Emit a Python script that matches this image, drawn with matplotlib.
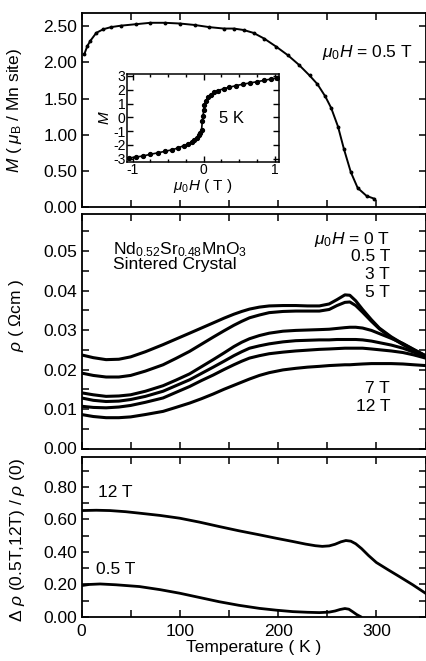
import numpy as np
import matplotlib
matplotlib.use("Agg")
import matplotlib.pyplot as plt
from matplotlib.ticker import MultipleLocator, FormatStrFormatter

plt.rcParams['font.family'] = ['Liberation Sans', 'DejaVu Sans']
plt.rcParams['mathtext.fontset'] = 'custom'
plt.rcParams['mathtext.rm'] = 'Liberation Sans'
plt.rcParams['mathtext.it'] = 'Liberation Sans:italic'
plt.rcParams['mathtext.bf'] = 'Liberation Sans:bold'
plt.rcParams['axes.unicode_minus'] = False

# ---- data ----
# magnetization at 0.5 T
T_M = [3, 6, 9, 15, 22, 30, 40, 55, 70, 85, 100, 115, 130, 145, 155, 165, 175,
       186, 198, 210, 221, 232, 240, 248, 254, 261, 267, 274, 281, 290, 298]
M_T = [2.12, 2.23, 2.30, 2.41, 2.46, 2.49, 2.51, 2.53, 2.55, 2.55, 2.54, 2.52, 2.49,
       2.47, 2.47, 2.45, 2.41, 2.33, 2.22, 2.10, 1.97, 1.82, 1.70, 1.53, 1.37,
       1.11, 0.80, 0.48, 0.26, 0.15, 0.11]

# inset: M(H) at 5 K
H_in = [-1.05, -0.95, -0.85, -0.75, -0.65, -0.55, -0.45, -0.36, -0.28, -0.22,
        -0.17, -0.13, -0.10, -0.07, -0.05, -0.03, -0.02, -0.01, 0.0, 0.01, 0.03,
        0.06, 0.10, 0.15, 0.20, 0.28, 0.36, 0.45, 0.55, 0.65, 0.75, 0.85, 0.95, 1.03]
M_in = [-2.95, -2.88, -2.80, -2.68, -2.58, -2.47, -2.36, -2.22, -2.05, -1.92,
        -1.78, -1.62, -1.48, -1.30, -1.12, -0.90, -0.30, 0.10, 0.50, 0.90, 1.20,
        1.45, 1.65, 1.82, 1.94, 2.07, 2.18, 2.29, 2.40, 2.49, 2.58, 2.68, 2.78, 2.85]

# resistivity for several fields
T_rho = [0, 12, 25, 38, 50, 65, 83, 96, 110, 122, 134, 145, 155, 163, 171, 181, 191,
         205, 218, 230, 242, 252, 260, 268, 273, 279, 286, 295, 303, 315, 327, 338, 350]
rho_0T = [0.0237, 0.0230, 0.0225, 0.0226, 0.0232, 0.0245, 0.0263, 0.0277, 0.0292,
          0.0305, 0.0318, 0.0330, 0.0340, 0.0347, 0.0353, 0.0358, 0.0361, 0.0362,
          0.0362, 0.0361, 0.0361, 0.0366, 0.0377, 0.0389, 0.0388, 0.0374, 0.0352,
          0.0326, 0.0305, 0.0283, 0.0265, 0.0250, 0.0235]
rho_05T = [0.0191, 0.0185, 0.0181, 0.0181, 0.0185, 0.0196, 0.0212, 0.0228, 0.0246,
           0.0264, 0.0282, 0.0298, 0.0312, 0.0322, 0.0331, 0.0338, 0.0344, 0.0347,
           0.0348, 0.0348, 0.0348, 0.0352, 0.0362, 0.0370, 0.0371, 0.0362, 0.0345,
           0.0322, 0.0303, 0.0281, 0.0263, 0.0248, 0.0233]
rho_3T = [0.0141, 0.0136, 0.0132, 0.0133, 0.0136, 0.0145, 0.0159, 0.0173, 0.0189,
          0.0207, 0.0225, 0.0242, 0.0258, 0.0269, 0.0278, 0.0286, 0.0292, 0.0297,
          0.0299, 0.0300, 0.0301, 0.0302, 0.0304, 0.0306, 0.0307, 0.0307, 0.0305,
          0.0299, 0.0291, 0.0279, 0.0266, 0.0251, 0.0235]
rho_5T = [0.0128, 0.0122, 0.0119, 0.0120, 0.0124, 0.0132, 0.0145, 0.0159, 0.0174,
          0.0190, 0.0206, 0.0221, 0.0235, 0.0245, 0.0254, 0.0260, 0.0265, 0.0270,
          0.0273, 0.0274, 0.0275, 0.0275, 0.0276, 0.0276, 0.0276, 0.0276, 0.0275,
          0.0272, 0.0268, 0.0262, 0.0254, 0.0244, 0.0232]
rho_7T = [0.0107, 0.0104, 0.0103, 0.0105, 0.0109, 0.0117, 0.0128, 0.0142, 0.0157,
          0.0172, 0.0186, 0.0200, 0.0212, 0.0221, 0.0229, 0.0235, 0.0240, 0.0244,
          0.0247, 0.0249, 0.0251, 0.0252, 0.0253, 0.0254, 0.0254, 0.0254, 0.0254,
          0.0252, 0.0250, 0.0247, 0.0243, 0.0237, 0.0229]
rho_12T = [0.0086, 0.0081, 0.0078, 0.0078, 0.0080, 0.0086, 0.0094, 0.0104, 0.0115,
           0.0126, 0.0138, 0.0150, 0.0160, 0.0168, 0.0176, 0.0185, 0.0192, 0.0199,
           0.0203, 0.0206, 0.0208, 0.0210, 0.0211, 0.0212, 0.0212, 0.0213, 0.0214,
           0.0215, 0.0215, 0.0215, 0.0214, 0.0212, 0.0210]

# magnetoresistance ratio
T_mr12 = [0, 15, 29, 45, 59, 80, 100, 120, 140, 160, 181, 198, 215, 228, 238, 245,
          252, 258, 264, 269, 274, 279, 285, 292, 300, 312, 323, 337, 350]
mr_12T = [0.654, 0.656, 0.654, 0.647, 0.638, 0.624, 0.607, 0.583, 0.556, 0.530,
          0.505, 0.484, 0.464, 0.448, 0.438, 0.434, 0.437, 0.447, 0.462, 0.470,
          0.466, 0.450, 0.420, 0.378, 0.335, 0.290, 0.250, 0.198, 0.146]
T_mr05 = [0, 8, 19, 35, 59, 80, 100, 120, 140, 160, 181, 198, 215, 230, 242, 252,
          258, 263, 268, 272, 276, 280, 284]
mr_05T = [0.193, 0.200, 0.203, 0.198, 0.187, 0.168, 0.146, 0.120, 0.094, 0.072,
          0.053, 0.042, 0.033, 0.029, 0.027, 0.030, 0.037, 0.046, 0.052, 0.048,
          0.032, 0.015, 0.002]

W, H = 426, 661
fig = plt.figure(figsize=(W / 100, H / 100), dpi=100)


def box(l, t, r, b):
    return [l / W, 1 - b / H, (r - l) / W, (b - t) / H]


def style(ax):
    ax.set_xlim(0, 350)
    ax.xaxis.set_major_locator(MultipleLocator(100))
    ax.xaxis.set_minor_locator(MultipleLocator(50))
    ax.tick_params(which='both', direction='in', top=True, right=True,
                   labelsize=12.5, width=1.1, pad=3)
    ax.tick_params(which='major', length=5)
    ax.tick_params(which='minor', length=5)
    for s in ax.spines.values():
        s.set_linewidth(1.3)


ax1 = fig.add_axes(box(81.5, 12.7, 425.5, 206.7))
ax2 = fig.add_axes(box(81.5, 214.3, 425.5, 448.5))
ax3 = fig.add_axes(box(81.5, 456.7, 425.5, 617))

# top: M(T)
style(ax1)
ax1.plot(T_M, M_T, color='black', lw=1.4, marker='o', ms=1.8)
ax1.set_ylim(0, 2.69)
ax1.yaxis.set_major_locator(MultipleLocator(0.5))
ax1.yaxis.set_minor_locator(MultipleLocator(0.5))
ax1.yaxis.set_major_formatter(FormatStrFormatter('%.2f'))
ax1.tick_params(labelbottom=False)
fig.text(413 / W, 1 - 53 / H, r'$\mu_0H$ = 0.5 T', ha='right', va='center', fontsize=12.5)
fig.text(15 / W, 1 - 110 / H, r'$M$ ( $\mu_{\rm B}$ / Mn site)', rotation=90,
         ha='center', va='center', fontsize=12.5)

# inset
axi = fig.add_axes(box(127, 74, 279, 162))
axi.plot(H_in, M_in, color='black', lw=1.2, marker='o', ms=2.8)
axi.set_xlim(-1.08, 1.06)
axi.set_ylim(-3.24, 3.14)
axi.xaxis.set_major_locator(MultipleLocator(1))
axi.xaxis.set_minor_locator(MultipleLocator(0.25))
axi.yaxis.set_major_locator(MultipleLocator(1))
axi.tick_params(which='both', direction='in', top=True, right=True,
                labelsize=10, width=1, pad=1)
axi.tick_params(which='major', length=4)
axi.tick_params(which='minor', length=2.5)
for s in axi.spines.values():
    s.set_linewidth(1.1)
axi.set_xlabel(r'$\mu_0H$ ( T )', fontsize=11, labelpad=0)
axi.set_ylabel(r'$M$', fontsize=11, labelpad=1)
fig.text(231.7 / W, 1 - 118.3 / H, '5 K', ha='center', va='center', fontsize=12)

# middle: resistivity
style(ax2)
for r in [rho_0T, rho_05T, rho_3T, rho_5T, rho_7T, rho_12T]:
    ax2.plot(T_rho, r, color='black', lw=2.2, solid_joinstyle='round')
ax2.set_ylim(0, 0.0593)
ax2.yaxis.set_major_locator(MultipleLocator(0.01))
ax2.yaxis.set_minor_locator(MultipleLocator(0.005))
ax2.yaxis.set_major_formatter(FormatStrFormatter('%.2f'))
ax2.tick_params(labelbottom=False)
fig.text(17 / W, 1 - 315 / H, r'$\rho$ ( Ωcm )', rotation=90,
         ha='center', va='center', fontsize=12.5)
fig.text(112.7 / W, 1 - 254 / H, r'Nd$_{0.52}$Sr$_{0.48}$MnO$_3$',
         ha='left', va='baseline', fontsize=12.5)
fig.text(112.7 / W, 1 - 269.5 / H, 'Sintered Crystal', ha='left', va='baseline', fontsize=12.5)
for lab, yy in [(r'$\mu_0H$ = 0 T', 239.3), ('0.5 T', 256.7), ('3 T', 274),
                ('5 T', 292.3), ('7 T', 388.3), ('12 T', 406.7)]:
    fig.text(390 / W, 1 - yy / H, lab, ha='right', va='center', fontsize=12.5)

# bottom: magnetoresistance
style(ax3)
ax3.plot(T_mr12, mr_12T, color='black', lw=2.0, solid_joinstyle='round')
ax3.plot(T_mr05, mr_05T, color='black', lw=2.0, solid_joinstyle='round')
ax3.set_ylim(0, 0.985)
ax3.yaxis.set_major_locator(MultipleLocator(0.2))
ax3.yaxis.set_minor_locator(MultipleLocator(0.1))
ax3.yaxis.set_major_formatter(FormatStrFormatter('%.2f'))
ax3.tick_params(axis='x', pad=5)
ax3.set_xlabel('Temperature ( K )', fontsize=12.5, labelpad=1)
fig.text(18 / W, 1 - 540 / H, r'Δ $\rho$ (0.5T,12T) / $\rho$ (0)', rotation=90,
         ha='center', va='center', fontsize=12.5)
fig.text(115 / W, 1 - 492.7 / H, '12 T', ha='center', va='center', fontsize=12.5)
fig.text(116 / W, 1 - 570 / H, '0.5 T', ha='center', va='center', fontsize=12.5)

fig.savefig('out.png', dpi=100)
